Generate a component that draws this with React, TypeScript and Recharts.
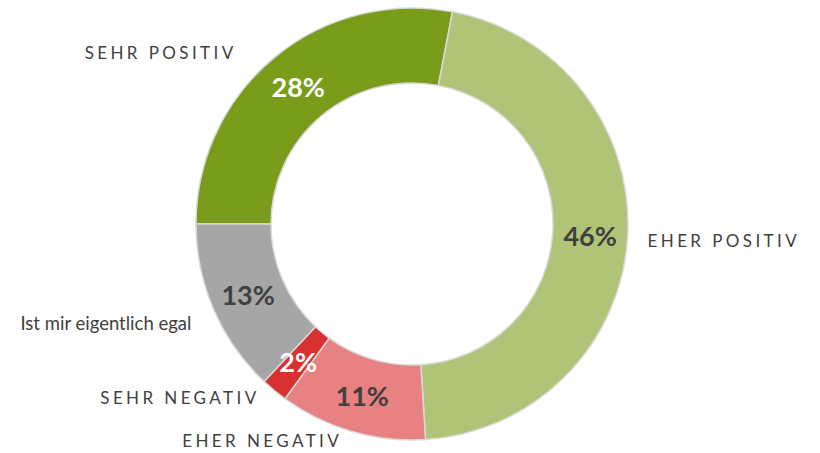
import { Cell, Pie, PieChart } from "recharts";

const categories = ["SEHR POSITIV", "EHER POSITIV", "EHER NEGATIV", "SEHR NEGATIV", "Ist mir eigentlich egal"];
const shares = [28, 46, 11, 2, 13];
const percentLabels = ["28%", "46%", "11%", "2%", "13%"];

const COLORS = ["#7a9c1b", "#b0c477", "#e88181", "#d93131", "#a6a6a6"];
const VALUE_TEXT = ["#ffffff", "#404040", "#404040", "#ffffff", "#404040"];
// small nudges so the outer names sit where the original put them
const NUDGE: Record<string, [number, number]> = {
  "SEHR POSITIV": [-25, 10],
  "EHER POSITIV": [0, 2],
  "EHER NEGATIV": [-4, -10],
  "SEHR NEGATIV": [-2, -8],
  "Ist mir eigentlich egal": [-4, 5]
};

const data = categories.map((name, i) => ({ name, value: shares[i], pct: percentLabels[i] }));

const RAD = Math.PI / 180;

function renderLabel(props: any) {
  const { cx, cy, midAngle, innerRadius, outerRadius, index, name } = props;
  const cos = Math.cos(-midAngle * RAD);
  const sin = Math.sin(-midAngle * RAD);
  const mid = (innerRadius + outerRadius) / 2;
  const ox = cx + mid * cos;
  const oy = cy + mid * sin;
  const [nx, ny] = NUDGE[name] ?? [0, 0];
  const lx = cx + (outerRadius + 20) * cos + nx;
  const ly = cy + (outerRadius + 20) * sin + ny;
  const caps = name === name.toUpperCase();
  return (
    <g>
      <text
        x={ox}
        y={oy}
        textAnchor="middle"
        dominantBaseline="central"
        fill={VALUE_TEXT[index]}
        fontSize={27}
        fontWeight={700}
        fontFamily="Lato"
      >
        {data[index].pct}
      </text>
      <text
        x={lx}
        y={ly}
        textAnchor={cos < 0 ? "end" : "start"}
        dominantBaseline="central"
        fill="#404040"
        fontSize={caps ? 17 : 18.5}
        letterSpacing={caps ? 3.4 : 0}
        fontFamily="Lato"
      >
        {name}
      </text>
    </g>
  );
}

export default function App() {
  return (
    <div style={{ position: "absolute", left: 0, top: 0, width: 820, height: 453, background: "#fff" }}>
      <PieChart width={820} height={453} margin={{ top: 0, right: 0, bottom: 0, left: 0 }}>
        <Pie
          data={data}
          dataKey="value"
          nameKey="name"
          cx={412}
          cy={224}
          innerRadius={141}
          outerRadius={216}
          startAngle={180}
          endAngle={-180}
          stroke="#d9d9d9"
          strokeWidth={1.5}
          label={renderLabel}
          labelLine={false}
          isAnimationActive={false}
        >
          {data.map((_, index) => (
            <Cell key={index} fill={COLORS[index]} />
          ))}
        </Pie>
      </PieChart>
    </div>
  );
}
